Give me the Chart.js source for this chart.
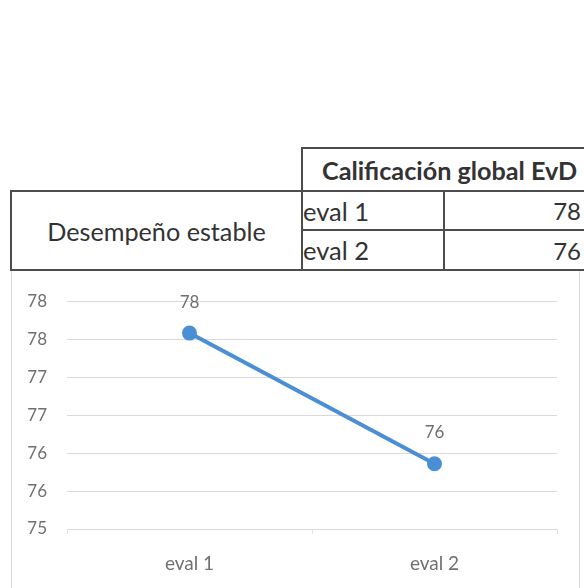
<!DOCTYPE html>
<html lang="es">
<head>
<meta charset="utf-8">
<title>Calificación global EvD</title>
<script src="https://cdn.jsdelivr.net/npm/chart.js@4.4.1/dist/chart.umd.min.js"></script>
<style>
  html, body { margin: 0; padding: 0; background: #fff; }
  body { width: 584px; height: 588px; position: relative; overflow: hidden;
         font-family: "Lato", "Open Sans", sans-serif; color: #333; }
  .cell { position: absolute; box-sizing: border-box; border: 2px solid #4d4d4d; background: #fff; }
  .hdr { font-weight: bold; font-size: 25.2px; display: flex; align-items: center; padding-left: 19px; }
  .lbl { font-size: 25.2px; display: flex; align-items: center; justify-content: center; }
  .ev  { font-size: 25.5px; display: flex; align-items: center; padding-left: 0; }
  .val { font-size: 24px; display: flex; align-items: center; justify-content: flex-end; padding-right: 10px; }
  #box { position: absolute; left: 11px; top: 270px; width: 569px; height: 318px;
         box-sizing: border-box; border-left: 1px solid #d9d9d9; border-right: 1px solid #d9d9d9; }
  #wrap { position: absolute; left: 11px; top: 271px; width: 569px; height: 317px; }
</style>
</head>
<body>
<div id="box"></div>
<div id="wrap"><canvas id="chart"></canvas></div>

<div class="cell hdr" id="hdr" style="left:301px; top:147px; width:300px; height:45px;"></div>
<div class="cell lbl" id="grp" style="left:10px; top:190px; width:293px; height:81px;"></div>
<div class="cell ev"  id="e1"  style="left:301px; top:190px; width:144px; height:41px;"></div>
<div class="cell val" id="v1"  style="left:443px; top:190px; width:150px; height:41px;"></div>
<div class="cell ev"  id="e2"  style="left:301px; top:229px; width:144px; height:42px;"></div>
<div class="cell val" id="v2"  style="left:443px; top:229px; width:150px; height:42px;"></div>

<script>
// Evaluations and their global score
const categories = ["eval 1", "eval 2"];
const scores = [77.58, 75.86];
const tableTitle = "Calificación global EvD";
const groupLabel = "Desempeño estable";
const yTicks = [75, 75.5, 76, 76.5, 77, 77.5, 78];

// Summary table above the chart
document.getElementById("hdr").textContent = tableTitle;
document.getElementById("grp").textContent = groupLabel;
document.getElementById("e1").textContent = categories[0];
document.getElementById("e2").textContent = categories[1];
document.getElementById("v1").textContent = Math.round(scores[0]);
document.getElementById("v2").textContent = Math.round(scores[1]);

const grey = "#707070";
const family = "Lato, 'Open Sans', sans-serif";

// Value labels drawn above each point
const pointLabels = {
  id: "pointLabels",
  afterDatasetsDraw(chart) {
    const ctx = chart.ctx;
    const meta = chart.getDatasetMeta(0);
    ctx.save();
    ctx.fillStyle = grey;
    ctx.font = "17px " + family;
    ctx.textAlign = "center";
    ctx.textBaseline = "middle";
    meta.data.forEach((pt, i) => {
      ctx.fillText(String(Math.round(scores[i])), pt.x, pt.y - 31);
    });
    ctx.restore();
  }
};

new Chart(document.getElementById("chart"), {
  type: "line",
  data: {
    labels: categories,
    datasets: [{
      data: scores,
      borderColor: "#4a8fd4",
      backgroundColor: "#4a8fd4",
      borderWidth: 4,
      pointRadius: 5.5,
      pointHoverRadius: 5.5,
      tension: 0,
      fill: false
    }]
  },
  options: {
    responsive: true,
    maintainAspectRatio: false,
    animation: false,
    events: [],
    layout: { padding: { top: 30, right: 23, left: 0, bottom: 0 } },
    plugins: { legend: { display: false }, tooltip: { enabled: false } },
    scales: {
      x: {
        offset: true,
        border: { display: false },
        grid: { display: true, drawOnChartArea: false, drawTicks: true, offset: true,
                tickLength: 5, color: "#e4e4e4" },
        ticks: { color: grey, font: { family, size: 19 }, padding: 18 },
        afterFit(scale) { scale.height = 59; }
      },
      y: {
        min: 75,
        max: 78,
        afterBuildTicks(scale) { scale.ticks = yTicks.map(v => ({ value: v })); },
        border: { display: false },
        grid: { color: "#d9d9d9", lineWidth: 1, drawTicks: false },
        ticks: {
          color: grey,
          font: { family, size: 17 },
          padding: 20,
          callback: v => String(Math.round(v))
        },
        afterFit(scale) { scale.width = 56; }
      }
    }
  },
  plugins: [pointLabels]
});
</script>
</body>
</html>
